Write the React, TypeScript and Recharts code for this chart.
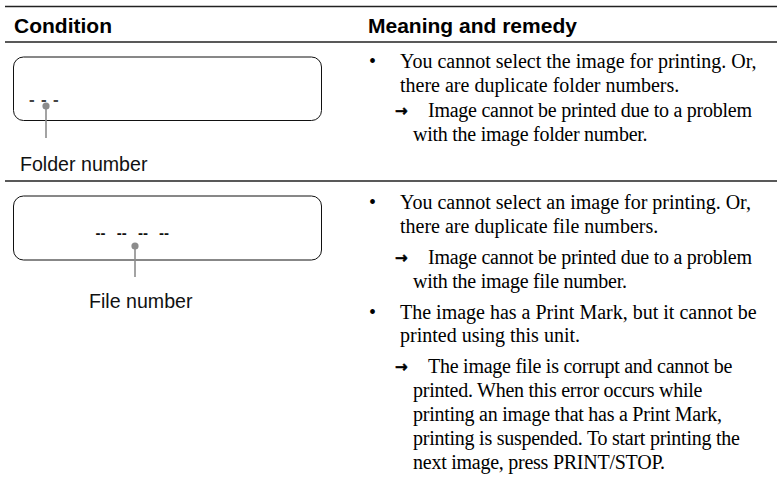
import React from 'react';
import { Surface, Layer, Rectangle, Dot } from 'recharts';

const W = 777;
const H = 480;

const headers = ['Condition', 'Meaning and remedy'];
const displayCodes = [['-', '-', '-'], ['--', '--', '--', '--']];
const pinLabels = ['Folder number', 'File number'];

type Item = { kind: 'bullet' | 'arrow'; lines: string[] };

const folderRemedy: Item[] = [
  { kind: 'bullet', lines: ['You cannot select the image for printing. Or,', 'there are duplicate folder numbers.'] },
  { kind: 'arrow', lines: ['Image cannot be printed due to a problem', 'with the image folder number.'] },
];

const fileRemedy: Item[] = [
  { kind: 'bullet', lines: ['You cannot select an image for printing. Or,', 'there are duplicate file numbers.'] },
  { kind: 'arrow', lines: ['Image cannot be printed due to a problem', 'with the image file number.'] },
  { kind: 'bullet', lines: ['The image has a Print Mark, but it cannot be', 'printed using this unit.'] },
  {
    kind: 'arrow',
    lines: [
      'The image file is corrupt and cannot be',
      'printed. When this error occurs while',
      'printing an image that has a Print Mark,',
      'printing is suspended. To start printing the',
      'next image, press PRINT/STOP.',
    ],
  },
];

const SERIF = '"Liberation Serif", "Times New Roman", serif';
const SANS = '"Liberation Sans", Arial, sans-serif';
const LINE_H = 23.8;

function RemedyBlock({ items, top, gap }: { items: Item[]; top: number; gap: number }) {
  let y = top;
  const out: React.ReactNode[] = [];
  items.forEach((item, i) => {
    const isArrow = item.kind === 'arrow';
    item.lines.forEach((line, j) => {
      const x = isArrow ? (j === 0 ? 428 : 413) : 400;
      out.push(
        <text key={`${i}-${j}`} x={x} y={y} fontFamily={SERIF} fontSize={20} fill="#000"
          letterSpacing={isArrow ? -0.25 : 0}>
          {line}
        </text>
      );
      if (j === 0) {
        out.push(
          isArrow ? (
            <text key={`m${i}`} x={395} y={y - 1} fontFamily='"DejaVu Sans", sans-serif' fontSize={15}
              fontWeight="bold" fill="#000" stroke="#000" strokeWidth={0.6}>
              →
            </text>
          ) : (
            <text key={`m${i}`} x={369} y={y} fontFamily={SERIF} fontSize={20} fill="#000">
              •
            </text>
          )
        );
      }
      if (j < item.lines.length - 1) y += LINE_H;
    });
    y += gap;
  });
  return <Layer>{out}</Layer>;
}

function Pin({ cx, cy, bottom }: { cx: number; cy: number; bottom: number }) {
  return (
    <Layer>
      <line x1={cx} y1={cy} x2={cx} y2={bottom} stroke="#8c8c8c" strokeWidth={1.6} />
      <Dot cx={cx} cy={cy} r={3.6} fill="#8c8c8c" />
    </Layer>
  );
}

export default function App() {
  return (
    <div style={{ position: 'absolute', left: 0, top: 0, width: W, height: H, background: '#fff' }}>
      <Surface width={W} height={H}>
        {/* rules */}
        <line x1={5} y1={6.5} x2={W} y2={6.5} stroke="#222" strokeWidth={1.3} />
        <line x1={5} y1={42} x2={W} y2={42} stroke="#222" strokeWidth={1.3} />
        <line x1={5} y1={181} x2={W} y2={181} stroke="#222" strokeWidth={1.3} />

        {/* headers */}
        <text x={14} y={33} fontFamily={SANS} fontWeight="bold" fontSize={21} fill="#000">
          {headers[0]}
        </text>
        <text x={368} y={33} fontFamily={SANS} fontWeight="bold" fontSize={21} fill="#000">
          {headers[1]}
        </text>

        {/* row 1: folder number display */}
        <Rectangle x={13.5} y={57} width={308} height={63.5} radius={10} fill="none" stroke="#111" strokeWidth={1} />
        {displayCodes[0].map((d, i) => (
          <text key={i} x={29 + i * 12} y={105} fontFamily={SANS} fontWeight="bold" fontSize={17} fill="#444">
            {d}
          </text>
        ))}
        <Pin cx={46} cy={106} bottom={138} />
        <text x={20} y={171} fontFamily={SANS} fontSize={19.6} fill="#111">
          {pinLabels[0]}
        </text>

        {/* row 2: file number display */}
        <Rectangle x={13.5} y={196} width={308} height={64} radius={10} fill="none" stroke="#111" strokeWidth={1} />
        {displayCodes[1].map((d, i) => (
          <text key={i} x={95.5 + i * 21.2} y={238} fontFamily={SANS} fontWeight="bold" fontSize={15} fill="#111">
            {d}
          </text>
        ))}
        <Pin cx={135} cy={246} bottom={277} />
        <text x={89} y={308} fontFamily={SANS} fontSize={19.6} fill="#111">
          {pinLabels[1]}
        </text>

        <RemedyBlock items={folderRemedy} top={68} gap={25} />
        <RemedyBlock items={fileRemedy} top={209} gap={31} />
      </Surface>
    </div>
  );
}
